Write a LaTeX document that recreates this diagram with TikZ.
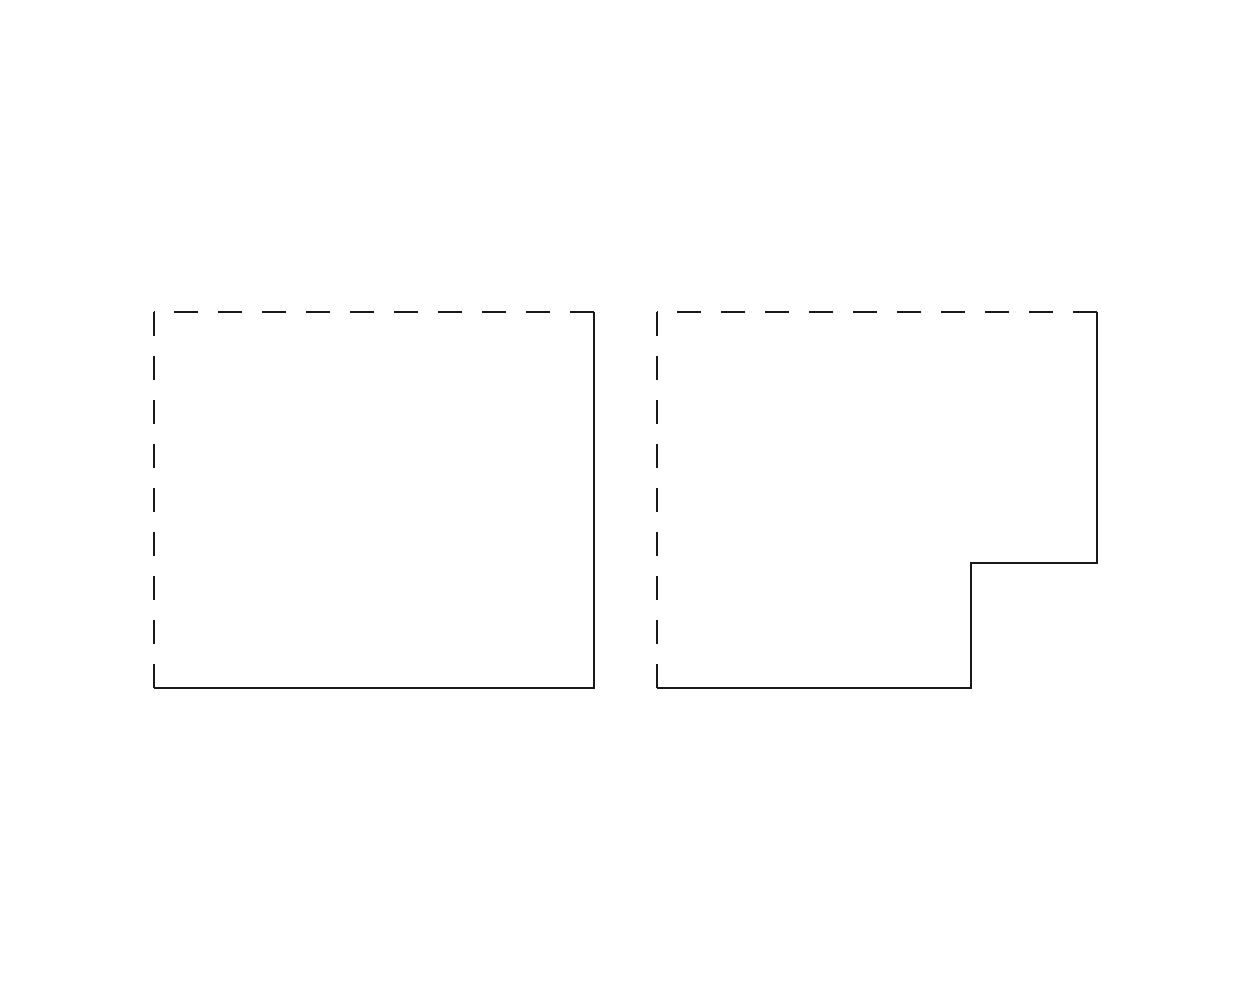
\documentclass[tikz,border=0pt]{standalone}
\begin{document}
\begin{tikzpicture}[x=0.02cm,y=-0.02cm,
  edge/.style={line width=1.1pt,draw=black!90,line cap=butt,line join=miter},
  dashedge/.style={edge,dash pattern=on 0.48cm off 0.40cm}]
\useasboundingbox (0,0) rectangle (1250,1000);
% left box
\draw[edge] (594,312) -- (594,688) -- (154,688);
\draw[dashedge] (594,312) -- (154,312);
\draw[dashedge] (154,312) -- (154,688);
% right shape
\draw[edge] (1097,312) -- (1097,563) -- (971,563) -- (971,688) -- (657,688);
\draw[dashedge] (1097,312) -- (657,312);
\draw[dashedge] (657,312) -- (657,688);
\end{tikzpicture}
\end{document}
